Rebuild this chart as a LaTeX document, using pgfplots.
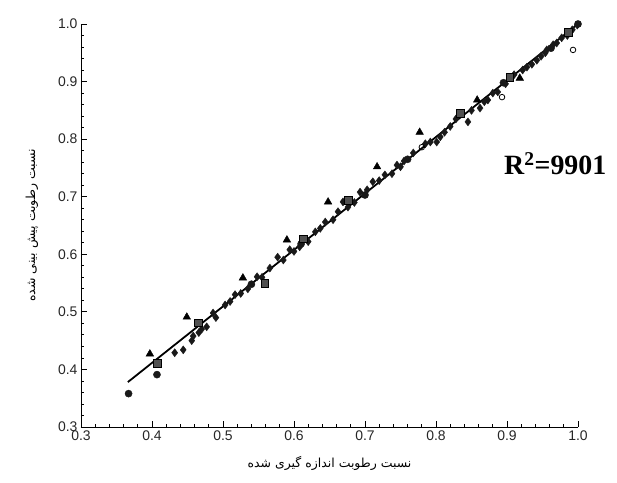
\documentclass[border=0pt]{standalone}
\usepackage{pgfplots}
\pgfplotsset{compat=1.18}
\usepackage{fontspec}
\setmainfont{Liberation Sans}
\newfontfamily\fa[Script=Arabic]{DejaVu Sans}
\newfontfamily\tnr{Liberation Serif}
\TeXXeTstate=1
\definecolor{mk}{RGB}{25,25,25}
\definecolor{sq}{RGB}{80,80,80}
\newcommand{\tl}[1]{\fontsize{14}{16}\selectfont\pgfmathprintnumber[fixed,fixed zerofill,precision=1,assume math mode=true]{#1}}

\begin{document}
\begin{tikzpicture}
\useasboundingbox (-81bp,-56bp) rectangle (536bp,427bp);
\begin{axis}[
  scale only axis, width=497bp, height=403bp,
  xmin=0.3, xmax=1.0, ymin=0.3, ymax=1.0,
  axis lines*=left, clip=false,
  xtick={0.3,0.4,...,1.0}, ytick={0.3,0.4,...,1.0},
  minor tick num=4, tick align=inside,
  major tick length=6bp, minor tick length=3.5bp,
  every tick/.style={black, line width=0.8pt},
  axis line style={line width=0.9pt},
  xticklabel={\tl{\tick}},
  yticklabel={\tl{\tick}},
  tick label style={text=black!85},
  xlabel={\fa\fontsize{12.5}{14}\selectfont\beginR نسبت رطوبت اندازه گیری شده\endR},
  ylabel={\fa\fontsize{12.5}{14}\selectfont\beginR نسبت رطوبت پیش بینی شده\endR},
  xlabel style={yshift=-9bp},
  ylabel style={yshift=13bp},
]
% regression line
\addplot[black, line width=1.8pt] coordinates {(0.366,0.378) (1.0,1.0)};
% dense chain of markers
\addplot[only marks, mark=diamond*, mark size=4pt, mk] coordinates {
 (0.432,0.429) (0.444,0.434) (0.456,0.450) (0.466,0.464) (0.477,0.474)
 (0.486,0.498) (0.503,0.512) (0.517,0.530) (0.548,0.561) (0.566,0.576)
 (0.577,0.595) (0.594,0.608) (0.608,0.613) (0.630,0.639) (0.644,0.656)
 (0.662,0.674) (0.669,0.691) (0.693,0.708) (0.711,0.726) (0.728,0.738)
 (0.745,0.755) (0.768,0.776) (0.801,0.795) (0.806,0.804) (0.845,0.830)
 (0.862,0.854) (0.873,0.868) (0.887,0.882) (0.928,0.925) (0.942,0.937)
 (0.954,0.950) (0.965,0.964) (0.956,0.955) (0.970,0.967) (0.977,0.976)
 (0.999,0.998) (0.490,0.490) (0.535,0.540) (0.585,0.590) (0.620,0.622)
 (0.655,0.660) (0.685,0.690) (0.720,0.728) (0.755,0.762) (0.785,0.792)
 (0.820,0.822) (0.850,0.850) (0.880,0.880) (0.910,0.912) (0.935,0.930)
 (0.985,0.980) (0.458,0.458) (0.525,0.532) (0.738,0.740) (0.812,0.812)
 (0.470,0.470) (0.510,0.518) (0.555,0.560) (0.600,0.605) (0.637,0.645)
 (0.676,0.682) (0.703,0.712) (0.750,0.752) (0.792,0.795) (0.828,0.835)
 (0.868,0.865) (0.898,0.896) (0.922,0.920) (0.948,0.944) (0.992,0.990)
};
\addplot[only marks, mark=*, mark size=3.6pt, mk] coordinates {
 (0.367,0.358) (0.407,0.391) (0.700,0.703) (1.0,1.0) (0.760,0.765)
 (0.540,0.548) (0.610,0.618) (0.895,0.898) (0.962,0.958)
};
\addplot[only marks, mark=square*, mark size=3.8pt, draw=black, fill=sq] coordinates {
 (0.407,0.411) (0.465,0.481) (0.559,0.550) (0.613,0.627) (0.676,0.694)
 (0.834,0.845) (0.904,0.908) (0.986,0.986)
};
\addplot[only marks, mark=triangle*, mark size=4.4pt, black] coordinates {
 (0.397,0.427) (0.449,0.491) (0.528,0.559) (0.590,0.625) (0.648,0.691)
 (0.717,0.752) (0.777,0.812) (0.858,0.868) (0.918,0.906)
};
\addplot[only marks, mark=o, mark size=2.8pt, black, line width=0.8pt] coordinates {
 (0.993,0.955) (0.780,0.786) (0.893,0.873)
};
\node[font=\tnr\bfseries\fontsize{28}{32}\selectfont, anchor=center] at (axis cs:0.968,0.757) {R\textsuperscript{2}=9901};
\end{axis}
\end{tikzpicture}
\end{document}
